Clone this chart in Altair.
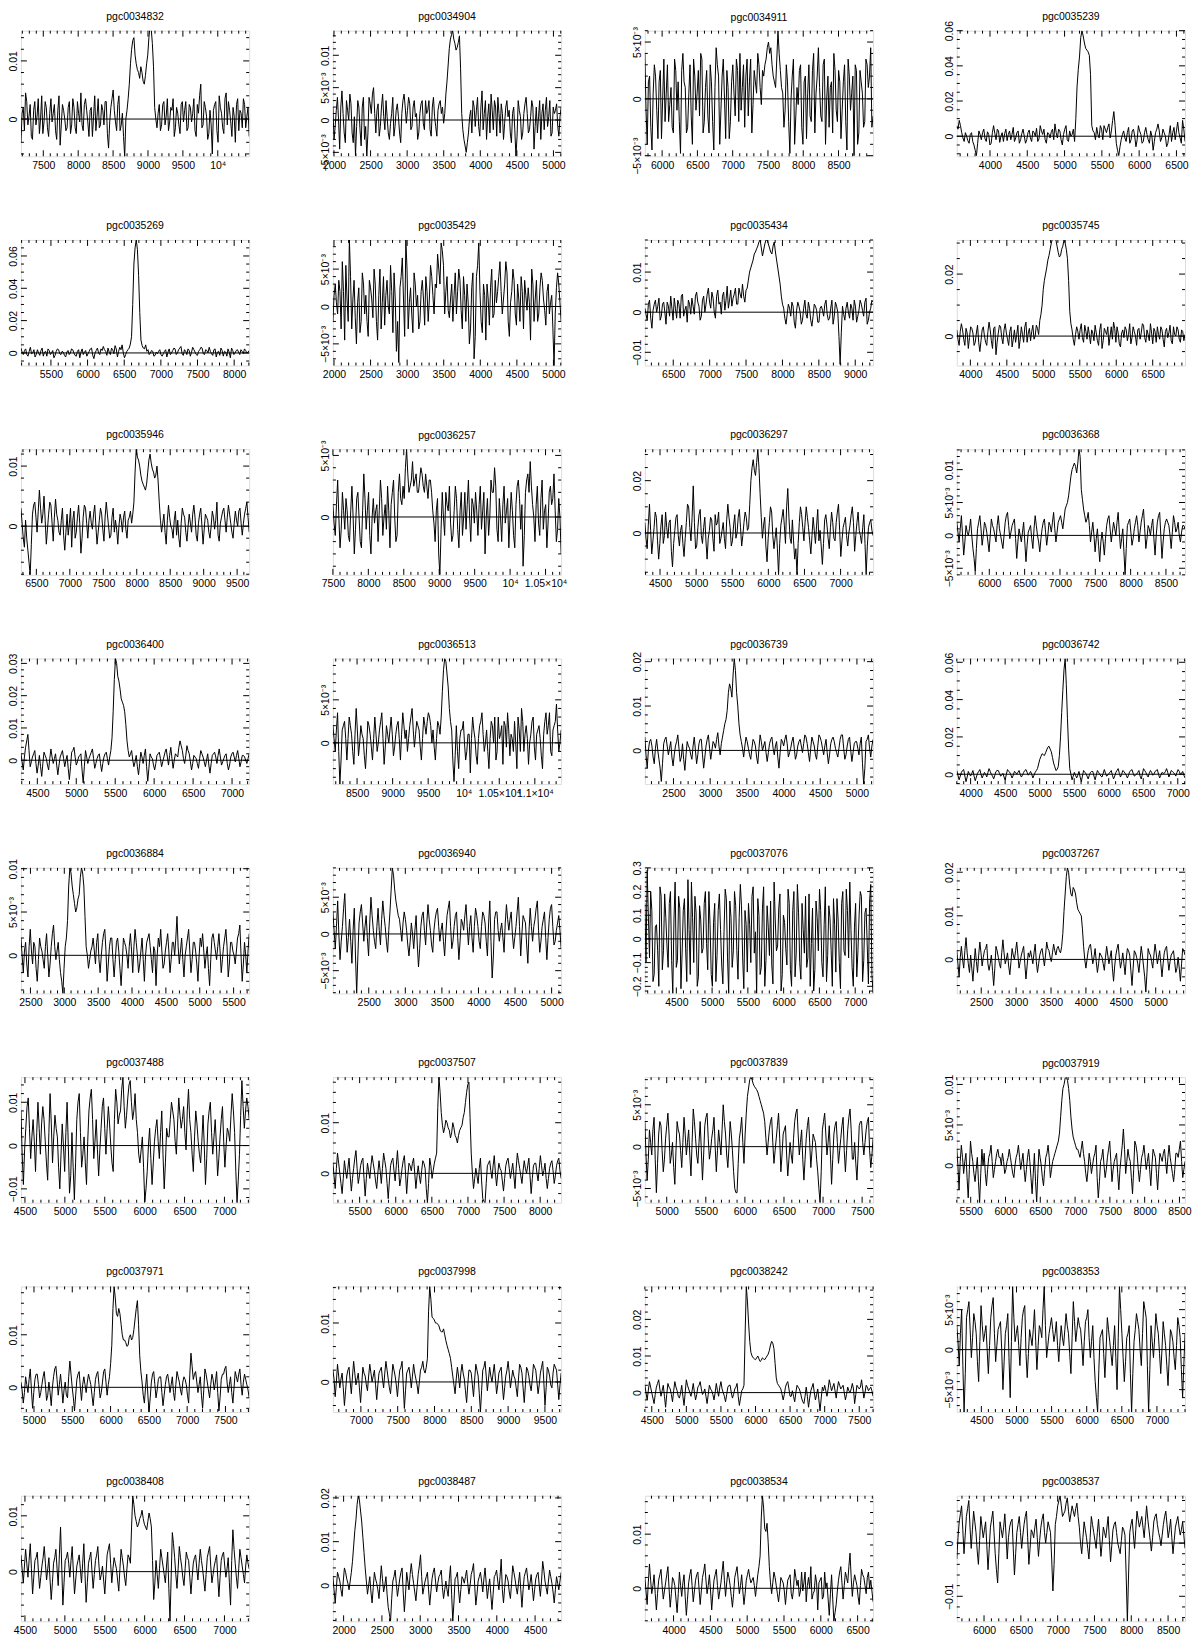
import math
import altair as alt
import numpy as np
import pandas as pd

FONT = "Liberation Sans"
W, H = 229, 126
UNIT = 1e-4
FS = 10.5

NAMES = ["pgc0034832", "pgc0034904", "pgc0034911", "pgc0035239",
         "pgc0035269", "pgc0035429", "pgc0035434", "pgc0035745",
         "pgc0035946", "pgc0036257", "pgc0036297", "pgc0036368",
         "pgc0036400", "pgc0036513", "pgc0036739", "pgc0036742",
         "pgc0036884", "pgc0036940", "pgc0037076", "pgc0037267",
         "pgc0037488", "pgc0037507", "pgc0037839", "pgc0037919",
         "pgc0037971", "pgc0037998", "pgc0038242", "pgc0038353",
         "pgc0038408", "pgc0038487", "pgc0038534", "pgc0038537"]

XRANGE = [(7180, 10450), (1985, 5105), (5755, 8990), (3555, 6615),
          (5091, 8205), (1985, 5105), (6110, 9245), (3814, 6943),
          (6270, 9680), (7500, 10720), (4290, 7450), (5540, 8770),
          (4290, 7220), (8160, 11370), (2110, 5220), (3800, 7105),
          (2360, 5730), (2010, 5130), (4060, 7250), (2150, 5420),
          (4450, 7310), (5130, 8290), (4720, 7640), (5300, 8580),
          (4830, 7810), (6620, 9720), (4400, 7700), (4150, 7400),
          (4450, 7310), (1860, 4840), (3610, 6710), (5630, 8730)]

YRANGE = [(-0.0064, 0.0152), (-0.0056, 0.0138), (-0.00505, 0.0060), (-0.0114, 0.0600),
          (-0.0078, 0.0699), (-0.0079, 0.0089), (-0.0133, 0.018), (-0.0095, 0.031),
          (-0.0081, 0.0128), (-0.0047, 0.0055), (-0.016, 0.032), (-0.0060, 0.0131),
          (-0.0074, 0.0315), (-0.0048, 0.0098), (-0.0076, 0.0207), (-0.0053, 0.062),
          (-0.0044, 0.0101), (-0.0081, 0.0090), (-0.23, 0.30), (-0.0078, 0.021),
          (-0.0132, 0.0158), (-0.0058, 0.019), (-0.0067, 0.0083), (-0.0046, 0.0109),
          (-0.0047, 0.0192), (-0.0051, 0.0162), (-0.0053, 0.029), (-0.0078, 0.0079),
          (-0.0089, 0.0136), (-0.0082, 0.0205), (-0.0061, 0.0171), (-0.0147, 0.0089)]

YSTEP = [0.01, 0.005, 0.005, 0.02,
         0.02, 0.005, 0.01, 0.02,
         0.01, 0.005, 0.02, 0.005,
         0.01, 0.005, 0.01, 0.02,
         0.005, 0.005, 0.1, 0.01,
         0.01, 0.01, 0.005, 0.005,
         0.01, 0.01, 0.01, 0.005,
         0.01, 0.01, 0.01, 0.01]

# flux densities in units of 1e-4; S = even channels, D = odd channels
S01 = [-40, 20, 45, -10, 25, -35, 30, 5, -25, 40, -5, 20, -30, 35, 10, -20, 15, -45, 25, 0,
       -15, 30, -10, 20, -25, 10, 45, -20, 35, -5, 15, -30, 40, 5, -15, 25, -10, 30, -50, 20,
       50, -5, 25, -20, 10, -65, 15, 60, 120, 140, 95, 80, 90, 65, 75, 110, 160, 130, 20, -15,
       25, -10, 30, 5, -20, 20, 35, -15, 10, -25, 30, 15, -20, 25, -5, 35, -30, 10, 60, -10,
       20, -35, 15, -60, 25, -20, 40, 10, -25, 45, 30, -5, 20, -40, 35, 15, -15, 25, 5, -30]
D01 = [10, -20, 30, 5, -30, 15, -10, 35, 0, -25, 30, -15, 10, -5, 25, -35, 40, -10, 15, -20,
       20, -25, 35, -15, 30, -5, -10, 25, 15, -30, 20, 5, -20, 35, -10, 15, 30, -25, -5, 35,
       15, -20, 40, -10, -30, 0, 35, 95, 135, 110, 85, 70, 80, 60, 95, 140, 155, 90, 0, 10,
       -20, 25, -10, 35, -5, 15, -30, 20, -10, 25, -5, 30, -15, 20, 10, -20, 25, 40, -15, 30,
       5, -25, -10, 15, 30, -40, 20, -15, 35, -10, 15, -30, 5, 25, -20, 10, 35, -15, 20]
S02 = [20, -10, 35, -45, 45, -20, 30, 0, 25, -35, -55, 30, -15, 20, -30, -56, 35, 10, 50, -20,
       25, -10, 40, -15, 5, -30, 10, -25, 15, 5, -35, 30, 20, 15, 25, -10, 30, 10, -20, 25,
       -5, 30, 15, -15, 20, 5, -25, 25, 10, -5, 40, 85, 125, 138, 118, 112, 130, 10, -30, -50,
       -20, 15, 30, -10, 35, -25, 45, 10, -30, 25, 40, -15, 20, 35, -20, 10, -5, 30, 15, -35,
       20, -56, 30, 5, -20, 25, 10, -15, 30, -45, 20, 5, -30, 25, 15, -10, 30, -20, 10, 25, -25, 20]
D02 = [-30, 15, 0, 20, 10, -35, 15, 40, -20, 5, -10, 20, -40, 35, -10, -20, 25, 40, 10, 15,
       -25, 20, 5, 30, -20, -5, 35, -10, 25, -20, 10, 40, -5, 35, -15, 20, 5, -30, 10, 30,
       -15, 10, 30, -25, 35, -10, 15, 30, 20, 10, 60, 110, 132, 125, 108, 120, 80, -15, -40, -35,
       5, -20, 20, 15, -10, 20, -15, 30, 5, -20, 15, 30, -25, 10, 25, -30, 20, 5, -20, 10,
       -15, -25, 15, -30, 10, 35, -20, 5, 20, -10, -20, 30, 10, -15, 35, 5, -25, 20, 15, -10, 5]
S03 = [40, -40, 20, -45, 30, -10, 15, -35, 35, 5, -20, 10, -30, 25, 15, -48, 40, 10, -25, 30,
       -40, 20, 5, -15, 35, -20, 25, -30, 15, -45, 45, 20, -10, 35, -35, 10, -20, 30, -15, 25,
       40, 10, -25, 35, 15, -30, 25, 5, 30, -5, 20, 35, 50, 45, 20, 10, 60, 25, 5, -10,
       15, -48, 20, -40, 10, 25, -25, 15, -35, 30, -20, 40, 5, 45, -15, 30, -40, 20, 10, -30,
       25, -20, 15, -10, 30, -45, 20, 5, -50, 25, -30, 15, -25, 35, 10, 45, -15]
D03 = [-10, 15, -25, 5, 20, -35, 25, 0, -20, 30, -5, -25, 35, -10, -20, 25, 15, -30, 5, -15,
       35, -10, 25, 40, -30, 10, -15, 30, -20, 10, 30, -40, 20, 0, 25, -35, 15, 5, 35, -20,
       -10, 30, 20, -15, 35, -5, 15, 40, 10, 25, 30, 45, 40, 30, 15, 35, 40, 10, -25, 30,
       -20, 0, 35, -15, -5, 30, -40, 20, 5, -15, 25, -30, 20, 10, -20, 35, 0, -25, 15, 40,
       -10, 25, -35, 15, -20, 35, -10, 20, 30, -40, 25, 5, -20, 30, 20, -25]
S04 = [60, 90, 20, -30, 0, -40, 20, -50, -110, 30, -20, 40, -30, 10, -40, 60, -20, 30, 0, -30,
       40, 10, -20, 50, -10, 30, -20, 40, -40, 20, -10, 30, 0, -30, 60, 10, -20, 20, -10, 40,
       70, -10, 30, -50, 40, -20, 30, 10, -30, 280, 450, 600, 530, 490, 460, 60, 20, 50, -10, 40,
       60, 20, 70, 30, 140, -40, -110, -20, 30, -30, 50, -20, 40, -60, 60, 10, -30, 50, -20, 30,
       -80, 20, 70, -30, 40, 0, -40, 60, 20, -20, 80, -10, 90, -30]
D04 = [40, 60, -10, 20, -25, 10, -30, -80, -40, 10, 20, -15, 25, -50, 20, 15, 40, -35, 20, 15,
       -25, 30, 10, -30, 20, -40, 15, 0, -20, 35, -30, 20, 45, -15, 30, 40, -40, 15, 25, -20,
       20, 40, -20, 10, 60, -30, 0, 40, 100, 380, 560, 570, 500, 480, 350, 30, -20, 10, 60, -20,
       40, 50, -10, 90, 60, -80, -60, 10, -10, 20, -40, 30, 0, -20, 30, -40, 20, 10, -40, 0,
       -30, 40, 30, -10, 20, -60, 10, -30, 50, 30, 20, -40, 40]
S05 = [30, -10, 25, -20, 35, 0, -25, 20, -15, 30, 5, -20, 15, 0, -30, 10, 20, -10, 5, -25,
       15, 0, 20, -15, 10, -30, 25, 5, -20, 10, 30, -35, 15, 0, 25, 40, 10, 30, -10, 20,
       45, -25, 35, 50, -30, 10, 30, 100, 550, 700, 480, 80, 30, 50, 20, 0, 10, -15, -5, 20,
       -20, 10, -25, 25, 0, 30, -10, 20, 40, -15, 10, 25, -20, 35, 5, -15, 20, 30, -10, 15,
       35, -5, 20, -25, 10, 30, -20, 5, 25, -30, 15, 0, 20, -10, 10, 25, 0, 15]
D05 = [5, 15, -10, 10, -5, 20, -10, 0, 15, -20, 10, 25, -10, 15, -15, 25, -5, 10, -15, 5,
       -10, 25, 0, -20, 20, 5, -10, 15, -5, 25, -15, 0, 30, -10, 15, 20, -15, 5, 30, -5,
       25, 10, 20, 0, -10, 20, 55, 300, 650, 640, 250, 45, 25, 10, -10, 15, -20, 5, 10, -10,
       -5, 20, 5, -10, 15, 25, 0, 30, -5, 20, -10, 15, 5, 20, -10, 10, 35, -5, 20, 0,
       10, -15, 25, 5, -15, 15, 10, -20, 5, 30, -10, 15, 5, 20, -5, 15, 5]
S06 = [-20, 30, -10, 20, 60, -45, 10, 90, -30, 35, -50, 25, -20, 30, 15, -40, 25, -15, 30, -45,
       50, 5, -25, 35, -10, 20, 45, -60, -75, 40, 10, 90, -30, 25, -35, 30, 15, -20, 35, -25,
       20, 10, 40, -10, 25, 50, 85, 55, 20, -5, 10, -20, 45, 20, 35, -30, 15, 30, -50, 25,
       -70, 40, 85, -20, 30, -45, 10, 25, -15, 35, 20, 60, -10, 30, 45, -40, 20, 35, -25, 10,
       40, -30, 15, 25, -45, 30, 10, -20, 25, 35, -5, 20, -10, 15, -80, 25, 30, -20]
D06 = [15, 5, 35, -30, 20, 55, -20, 40, 10, -15, 5, -35, 45, -10, -20, 35, 10, 50, -20, 15,
       -30, 40, 15, 0, 55, -35, 10, -20, 25, 65, -40, 50, 5, -10, 45, 0, -30, 20, 10, 40,
       -20, 55, 15, 30, 70, 30, 75, -10, 40, -15, 30, 15, -10, 50, -5, 40, -20, 5, -30, 45,
       -40, 55, 20, -35, 15, 30, -25, 50, -10, 5, 40, 20, 10, 60, -20, 5, 50, -10, 30, -20,
       20, 35, -5, 5, 50, -20, 35, -10, 45, 10, -25, 30, 5, -30, -10, 45, 5]
S07 = [10, -20, 30, -40, 20, 0, 35, -10, 25, -30, 15, 40, -20, 10, 30, -15, 45, 5, -25, 20,
       35, -5, 50, 15, -10, 40, 20, 60, 10, 35, -15, 55, 25, 40, 5, 65, 30, 15, 45, 20,
       60, 35, 40, 55, 80, 110, 130, 150, 165, 180, 140, 170, 180, 160, 145, 175, 130, 90, 40, 10,
       -30, 20, -10, 15, -40, 25, 0, -20, 30, -15, 10, -35, 20, 5, -25, 15, -10, 30, -20, 10,
       -30, 25, 0, -130, 15, -20, 25, -15, 10, 30, -25, 5, 20, -10, 35, -20, 10, 25]
D07 = [-5, 20, -15, 5, 30, 15, -20, 20, 0, 25, -10, 10, 35, -15, 20, 40, -10, 15, 30, -5,
       15, 40, 25, -20, 30, 0, 45, 25, 50, 0, 40, 20, -5, 50, 30, 10, 55, 35, 60, 20,
       45, 70, 25, 60, 100, 120, 145, 158, 175, 160, 155, 180, 170, 150, 165, 150, 110, 70, 20, -15,
       -5, 10, 25, -25, 5, 15, -30, 10, -5, 25, -20, -10, 15, -25, 10, 5, 20, -5, -15, 30,
       -10, 15, -60, -50, -5, 10, 0, 20, -20, 15, -10, 30, 5, 25, -30, 0, 30]
S08 = [20, -30, 40, -10, 25, -40, 30, 10, -20, 35, -50, 20, 0, -30, 45, -15, 25, -60, 10, 30,
       -25, 40, -10, 15, -35, 20, 5, -40, 30, -20, 45, 10, -15, 35, 0, 25, 50, 100, 180, 220,
       260, 300, 320, 310, 270, 260, 290, 300, 250, 80, 20, -30, 30, -10, 40, -20, 15, 30, -25, 10,
       35, -15, 20, -40, 25, 5, -30, 30, 45, -20, 10, -35, 20, 30, -15, 40, -5, 15, -30, 25,
       10, 35, -20, 5, 40, -25, 15, 30, -10, 20, -35, 25, 10, -15, 30, 0, 20, -20, 15, 5]
D08 = [-10, 15, 20, -30, 10, -5, 25, -30, 10, -20, -15, 30, -20, 15, 20, -40, 30, -20, 35, -5,
       20, 10, -30, 30, -10, -20, 35, -10, 5, 30, -20, 25, 15, -10, 35, 5, 70, 150, 200, 245,
       280, 315, 325, 290, 255, 280, 310, 280, 180, 40, -10, 5, 15, 20, -5, 35, -10, 5, 20, -15,
       10, -30, 40, -15, 15, 30, 0, -10, 25, 30, -25, 10, -5, 20, 5, -25, 30, 0, 20, -10,
       40, -5, 20, -15, 10, 25, -20, 5, 30, -10, 15, -5, 35, -25, 5, 30, -10, 20, -15]
S09 = [30, -20, 10, -40, -81, 20, 40, -10, 60, 5, 50, -30, 20, 35, -25, 45, 10, -15, 30, -40,
       20, 5, -35, 25, -10, 35, -45, 15, 30, -20, 25, -5, 35, -30, 10, 20, -25, 40, 0, -15,
       30, 10, -30, 20, -10, 25, -20, 15, 5, 40, 128, 110, 85, 70, 60, 90, 120, 95, 80, 100,
       40, -10, 20, -30, 35, 0, -20, 25, 10, -35, 30, 15, -25, 20, -10, 35, -15, 5, 30, -30,
       20, 10, -20, 25, -5, 40, -25, 15, 30, -10, 35, 5, -20, 25, 0, 30, -15, 20, 40, -10]
D09 = [5, -35, -20, -60, -30, 35, 15, 25, 30, 20, 10, -5, 40, 5, 15, 20, -10, 10, -15, -10,
       -15, 30, 10, -20, 15, 5, -20, 35, 5, 10, 5, 20, 0, -10, 30, -5, 15, 20, -20, 15,
       -10, -5, 0, 10, 15, -5, 10, 25, 20, 90, 115, 100, 75, 65, 70, 110, 105, 90, 85, 75,
       10, 5, -10, 10, 15, -5, 10, -15, -20, 5, 20, -10, 0, 5, 20, 15, -25, 20, 0, -5,
       15, -10, 0, 15, 10, -15, 5, 25, 10, 15, 20, -10, 5, 10, 25, 5, 5, 30, 15]
S10 = [10, -15, 30, -25, 20, -10, 5, -20, 25, -30, 15, 0, -25, 35, -10, 20, -30, 15, 5, -20,
       30, -15, 10, 25, -25, 20, 0, -15, 35, 10, 15, 55, 20, 30, 25, 35, 20, 40, 25, 35,
       15, 30, 5, -20, 15, -47, 20, -15, 10, 25, -20, 5, 15, -25, 20, 0, -10, 30, -20, 10,
       20, -15, 25, 5, -30, 15, 0, 20, 40, -10, 15, -20, 25, 5, -25, 20, -15, 10, 30, -10,
       -40, 20, 35, 45, 10, -20, 25, -15, 30, 5, -25, 20, 10, 35, -20, 15, -30]
D10 = [-5, 10, 0, -10, 5, 15, -15, 5, 0, -10, 20, -20, 5, 15, 5, -15, 0, -5, 10, 5,
       15, 0, -10, 5, 10, 30, -20, 20, 15, 25, 40, 35, 25, 45, 30, 20, 30, 35, 20, 25,
       30, 20, -5, 5, -30, -10, 0, 20, 5, -5, -15, 25, -10, 5, -15, 20, 10, 0, 15, -5,
       5, 10, -10, 20, 0, -15, 30, 20, 25, -20, 0, 10, -5, 15, 0, 5, -25, 25, 15, 10,
       -15, 30, 20, 25, 0, 10, -5, 15, -10, 10, -5, 25, 15, 5, -10, 0]
S11 = [40, -60, 110, -80, 20, 60, -100, 30, -40, 80, -20, 50, -130, 10, 70, -50, 30, -90, 40, 100,
       -30, 180, -60, 20, 90, -40, 60, -100, 10, 50, -70, 30, 80, -20, 40, -60, 110, 20, -30, 70,
       0, 90, -50, 40, 60, 20, 200, 280, 220, 320, 150, -20, 60, -110, 40, 80, -60, 20, -160, 30,
       90, -40, 170, -20, 50, -100, -160, 40, 70, -30, 100, 20, -80, 60, -40, 90, 10, -120, 50, 30,
       -60, 80, -20, 40, 110, -90, 20, 60, -50, 30, 100, -70, 40, 10, -40, 70, -160, 20, 50, -10]
D11 = [-20, 30, 10, -30, 80, -30, -40, 70, -10, 20, 40, -70, -40, 60, -10, 10, -40, -20, 110, 20,
       60, 40, -50, 70, -10, 20, -30, -20, 60, -20, 70, 40, -40, 10, -20, 50, 60, -50, 30, -20,
       60, 20, -10, 80, 10, 110, 250, 240, 270, 250, 60, 30, -50, -20, 100, -10, -20, -60, -40, 60,
       30, 100, 60, -40, -30, -60, -40, 100, 20, 40, 60, -30, -10, 10, 30, -30, -50, -40, 70, -20,
       20, 40, -30, 80, 10, -30, 40, -10, 0, 70, 40, -10, 80, -10, 20, -40, -50, 40, 10]
S12 = [20, -10, 30, -30, 15, 0, 25, -20, -55, 10, 30, -15, 20, 5, -25, 25, 10, -10, 30, 0,
       -20, 20, 35, -5, 15, 25, -35, 10, -10, 20, -40, 5, 15, -20, 30, 0, -25, 10, 25, -15,
       20, 5, 35, -10, 20, 30, 10, 40, 50, 75, 100, 110, 95, 131, 70, 40, 20, 35, -10, 20,
       -25, 10, -40, 5, -30, 15, 30, -10, 20, 0, 35, -20, 10, -60, 15, 25, -15, 10, 30, -10,
       20, 40, -20, 15, 0, 25, -30, 20, 35, -35, 10, 25, 15, -20, 30, 5, 20, -10, 15, 10]
D12 = [5, 10, 0, -10, 5, 10, 0, -35, -20, 20, 10, 0, 15, -10, 0, 15, 0, 15, 10, -10,
       0, 30, 15, 5, 20, -5, -10, 0, 5, -10, -15, 10, -5, 10, 15, -10, -5, 20, 5, 0,
       15, 20, 10, 5, 25, 20, 25, 45, 60, 90, 105, 105, 110, 120, 55, 30, 25, 15, 5, 0,
       -5, -15, -10, -10, -5, 25, 10, 5, 10, 20, 5, -5, -25, -20, 20, 5, -5, 20, 15, 5,
       30, 10, -5, 10, 15, -5, 0, 30, 0, -10, 20, 20, 0, 5, 20, 10, 0, 5, 15]
S13 = [20, -30, 40, 80, -20, 10, 30, -40, 15, -50, 25, 5, -30, 35, -10, 20, -45, 10, 30, -20,
       15, -60, 25, 40, -15, 10, 20, -70, 30, -10, 15, 35, -25, 5, 20, -35, 10, 25, -15, 30,
       150, 315, 260, 220, 180, 150, 60, 10, 30, -20, 15, -45, 25, -10, 35, -65, 20, 5, -30, 15,
       25, -20, 10, 35, -15, 40, -25, 20, 10, 60, 30, -10, 45, 20, -30, 15, 5, -25, 30, 10,
       -20, 20, -40, 15, 25, -10, 35, -15, 5, 20, -30, 10, 25, -5, 30, -20, 15, 10, -10, 20]
D13 = [-5, 10, 60, 30, -5, 20, -10, -15, -20, -10, 15, -15, 5, 10, 5, -15, -15, 20, 5, 0,
       -25, -20, 30, 10, -5, 15, -30, -20, 10, 5, 25, 5, -10, 15, -10, -10, 20, 5, 10, 70,
       250, 300, 245, 190, 170, 110, 30, 20, 0, -5, -20, -10, 10, 15, -20, -25, 10, -15, -10, 20,
       5, -5, 25, 10, 15, 5, 0, 15, 40, 45, 5, 15, 30, -5, -10, 10, -10, 5, 20, -5,
       0, -15, -10, 20, 10, 15, 10, -5, 15, -10, -15, 20, 10, 15, 5, -5, 15, 0, 5]
S14 = [20, -10, 35, -48, 15, 25, -20, 30, 10, -25, 40, -15, 20, 5, -30, 25, 10, -20, 30, -10,
       15, 35, -25, 20, 0, 30, -15, 10, 25, -20, 35, 5, -10, 20, 40, -5, 25, 15, -20, 30,
       10, 35, 20, 15, -20, 25, 10, 60, 98, 80, 40, 15, -45, 20, -30, 15, 25, -20, 10, -35,
       30, 5, -25, 20, 35, -10, 15, -30, 25, 0, -20, 30, 10, -25, 20, 35, -15, 5, 25, -30,
       15, 40, -10, 20, -25, 10, 30, -20, 15, 5, -30, 25, 10, 35, -15, 20, 45, -10, 15]
D14 = [5, 15, -10, -20, 20, 5, 5, 20, -10, 10, 15, 0, 10, -15, -5, 20, -5, 5, 10, 0,
       25, 5, -5, 10, 15, 10, -5, 20, 5, 10, 20, 15, 5, 30, 15, 10, 20, -5, 5, 20,
       25, 30, 0, -5, 5, 20, 30, 85, 95, 65, 25, -20, -15, -10, 5, 15, 0, -10, 10, 5,
       15, -15, 5, 25, 10, 0, -10, 5, 20, 30, -10, 5, 20, 25, -5, 15, 10, -10, 0, 30,
       -10, 25, 10, 5, 0, 25, -5, 10, 20, -15, 10, 35, 20, -10, 15, 25, 15, 0]
S15 = [30, -40, 20, 10, -30, 25, -20, -70, 15, 30, -10, 20, -35, 10, 35, -25, 15, -45, 20, 5,
       -20, 30, -30, 15, 25, -40, 10, 35, -20, 20, 5, 40, -10, 30, 60, 90, 150, 120, 207, 130,
       60, 20, -15, 30, 5, -20, 25, 10, -30, 35, 0, 20, -25, 15, 30, -10, 20, -40, 25, 10,
       35, -15, 5, 30, -20, 10, 25, -5, 35, 15, -25, 30, 10, -20, 35, 20, -10, 25, -30, 15,
       30, 5, -15, 25, 35, -20, 10, 30, -25, 15, 20, -10, 30, -76, 20, 35, -15, 25]
D15 = [-10, 0, 25, -15, 5, 0, -40, -30, 25, 10, 5, -15, -10, 20, 5, -15, -20, -10, 10, -10,
       10, 0, -10, 25, -10, -15, 25, 5, 0, 15, 25, 10, 15, 45, 70, 130, 140, 170, 180, 100,
       35, 5, 10, 20, -10, 5, 20, -15, 5, 20, 10, -5, -5, 25, 5, 10, -15, -5, 20, 25,
       15, -5, 20, 5, -10, 20, 10, 15, 30, -5, 5, 20, -10, 10, 30, 5, 10, -5, -10, 25,
       20, -5, 5, 35, 5, -10, 25, 0, -5, 20, 5, 15, -30, -40, 25, 5, 10]
S16 = [20, -30, 10, 25, -40, 15, -10, 20, -35, 5, 25, -20, 10, -15, 30, 0, -25, 15, 20, -10,
       5, -30, 25, 10, -20, 15, 0, 20, -15, 10, 25, -5, 15, -20, 10, 30, 80, 110, 100, 130,
       150, 120, 60, 20, 40, 200, 450, 620, 300, 30, -30, 10, -20, 15, -40, 20, 5, -25, 10, 15,
       -30, 20, 0, -15, 25, -10, 5, 20, -25, 10, 30, -15, 20, 5, -20, 15, 25, -10, 0, 20,
       -25, 30, 10, -15, 20, -5, 15, 25, -20, 10, 5, 30, -15, 20, 10, -10, 25, 0, 15, -20]
D16 = [-5, -10, 20, -10, -15, 0, 5, -10, -15, 15, 0, -5, 0, 10, 15, -10, -5, 20, 5, -5,
       -15, 0, 15, -5, -5, 10, 10, 0, -5, 20, 10, 5, 0, -5, 20, 55, 95, 105, 115, 145,
       135, 90, 40, 25, 100, 330, 560, 480, 140, 0, -10, -5, -5, -15, -10, 10, -10, -5, 15, -10,
       -5, 10, -10, 5, 5, -5, 10, -5, -10, 20, 5, 0, 15, -5, -5, 20, 5, -5, 10, -10,
       0, 20, -5, 5, 10, 0, 20, 0, -5, 5, 15, 10, 0, 15, 0, 10, 15, 5, -5]
S17 = [20, -20, 15, -25, 30, -10, 10, -30, 20, 5, -15, 25, -25, 10, 35, -5, 15, -20, -44, 10,
       40, 101, 80, 60, 55, 70, 101, 80, 10, -15, 5, 20, -10, 25, -20, 15, 30, -30, 10, 20,
       -25, 15, 5, -35, 20, 10, -15, 25, -20, 30, 0, -10, 20, -30, 15, 25, -5, 10, -35, 20,
       30, -15, 5, 25, -20, 15, 0, 45, -10, 20, -25, 10, 30, -20, 15, 5, -30, 20, 25, -15,
       10, -35, 20, 15, -5, 25, -20, 10, 30, -25, 15, 5, -10, 20, 35, -30, 15, -20, 25]
D17 = [0, 5, -10, 10, 5, 15, -15, -5, 10, -5, 10, 0, -10, 25, 10, 5, -5, -30, -15, 20,
       80, 95, 70, 50, 65, 90, 95, 45, 0, -5, 10, 5, 15, -5, 0, 25, 5, -10, 20, -5,
       -5, 20, -15, -10, 15, 0, 10, 5, 10, 15, -20, 5, -5, 0, 20, 10, -20, 5, 0, 10,
       5, -10, 15, 5, -5, 15, 20, 10, 5, -5, 0, 20, 5, -5, 15, -10, 0, 10, 5, 0,
       -15, -5, 25, 5, 10, 5, -5, 20, 10, -10, 15, 0, 5, 25, 0, -10, 0, 5]
S18 = [30, -20, 45, -35, 10, 55, -25, 20, -40, 35, -81, 15, 40, -10, 25, -30, 50, 5, -20, 35,
       -15, 45, 10, -25, 30, 90, 60, 35, 20, -10, 30, 5, -30, 15, -20, 25, -45, 10, 30, -15,
       40, 5, -25, 20, 35, -10, 15, -30, 25, 45, -20, 10, 30, -35, 20, 5, 40, -15, 25, -25,
       35, 10, -20, 30, 15, -30, 45, -60, 20, 30, -10, 15, -25, 40, 5, 30, -20, 10, 50, -30,
       25, 15, -40, 35, -10, 20, 45, -25, 10, 30, -35, 20, 40, -15, 5, 25, -20]
D18 = [5, 10, 0, -10, 35, 10, -5, -10, 5, -30, -30, 30, 15, 10, -5, 15, 25, -10, 10, 5,
       20, 25, -10, 5, 60, 80, 45, 25, 5, 15, 20, -15, -10, 0, 5, -15, -20, 25, 5, 15,
       20, -15, 5, 30, 10, 5, -10, 0, 35, 10, -10, 25, -5, -10, 15, 25, 10, 10, -5, 10,
       25, -10, 10, 25, -10, 15, -10, -30, 30, 5, 5, -5, 15, 20, 20, 0, -5, 30, 10, 0,
       20, -15, 5, 10, 10, 35, 5, -10, 20, -5, -5, 35, 10, -10, 15, 5]
S19 = [1500, 2900, -800, 1200, -1500, 600, -2000, 1800, -500, 900, -1200, 2000, -2300, 2400, -900,
       1300, -600, 1700, -1800, 400, 2400, -1000, 1100, -1600, 800, -400, 2000, -1300, 600, -2000,
       1500, -700, 1900, -1100, 300, 1700, -2300, 900, -500, 1400, -1700, 2300, -800, 1200, -1400,
       600, 1800, -600, -2300, 1000, -1200, 2200, -900, 500, 1600, -1900, 800, -300, 1900, -1500,
       700, -1100, 1500, -2000, 2000, -600, 1100, -1700, 400, 1800, -800, -2000, 1300, -1300, 900,
       2100, -1000, 600, -1800, 1400, -500, 1700, -1400, 800, -2100, 2000, -700, 1200, 2400, -1200,
       500, -1600, 1000, 1800, -900, 1300, -1900, 2300, -2300]
D19 = [-1000, 1000, 2000, -1800, 500, -500, 2200, -1300, 1900, -300, 1500, -900, 800, -1200, 1800,
       -2100, 1200, -400, 2500, -1500, 900, 1800, -2000, 1400, -600, 1500, -200, 2000, -1500, 700,
       -1800, 1200, 400, -1900, 2100, -800, 1600, -1200, 2000, -500, 900, 1400, -2100, 600, 1500,
       -1000, 2200, 300, 1700, -1500, 1300, -2000, 1400, -700, -1100, 2400, -500, 1300, -2200, 1000,
       -400, 2100, -1300, 1200, -1600, 2300, -1000, 1500, -600, -1200, 1900, -200, -2200, 1600, -500,
       1200, -1600, 2200, -700, 900, -2000, 600, 1700, -1000, 1500, -500, 2100, -800, 400, -2000,
       1500, -500, 2000, -1800, 1100, -300, 1600, -1500]
S20 = [20, -40, 30, -20, 50, -10, 10, -50, 25, -30, 40, -15, 20, 35, -25, 10, -60, 30, 5, -20,
       45, -10, 15, -35, 25, 0, 40, -20, 10, 30, -45, 15, 20, -10, 35, -30, 10, 25, -15, 40,
       20, -5, 35, 10, 30, 15, 60, 150, 210, 170, 145, 160, 130, 110, 100, 30, -20, 20, 35, -10,
       25, -30, 15, 5, -25, 30, -10, 20, -50, 10, 35, -20, 15, -35, 25, 10, -60, 20, 5, -30,
       30, -15, -75, 25, 10, -20, 35, -10, 20, -40, 15, 30, -25, 10, 20, -30, 5, -50, 25, 10]
D20 = [-10, 5, 0, 20, 15, -30, -20, -10, -5, 10, 15, 5, 25, -10, -10, -25, -20, 20, -10, 15,
       15, 0, -15, -5, 10, 20, 10, -5, 20, -10, -15, 5, 5, 15, -5, -10, 20, 5, 10, 25,
       5, 15, 20, 25, 20, 30, 110, 190, 200, 150, 165, 150, 115, 105, 70, 0, 0, 30, 10, 5,
       -5, -10, 10, -10, 5, 10, 5, -20, -15, 25, 5, -5, -10, 0, 20, -25, -20, 15, -10, 0,
       10, -40, -30, 15, -5, 10, 15, 5, -10, -10, 25, 0, -5, 15, -5, -20, -20, -10, 20]
S21 = [80, -90, 40, 110, -30, 60, -60, 100, -20, 90, 10, -80, 120, -40, 70, 20, -100, 50, -60, 100,
       -110, 30, -125, 60, 120, -50, 20, -90, 80, 130, -30, 60, -70, 40, 110, -20, 90, 0, -60, 130,
       50, 80, 158, 40, 110, 150, 60, 120, 30, -40, 20, -130, -60, 40, -90, 10, 60, -30, 80, -100,
       40, 20, 100, 60, -20, 110, 40, 90, -10, 130, 30, -60, 80, 10, -40, 70, -90, 50, 100, -20,
       60, -70, 20, 90, -50, 40, 10, 120, 30, -132, -20, 150, 40, 110, 60]
D21 = [-20, -10, 90, 40, 20, 10, 30, 40, 50, 60, -40, 30, 50, 20, 40, -50, -20, 0, 30, 0,
       -70, -50, -40, 100, 30, -20, -40, 10, 110, 60, 10, -10, -10, 90, 40, 40, 50, -40, 60, 100,
       70, 130, 90, 70, 140, 100, 80, 60, -20, -10, -50, -100, 0, -30, -40, 40, 10, 30, -20, -40,
       20, 60, 80, 10, 50, 70, 60, 30, 80, 60, -20, 20, 50, -20, 10, 0, -30, 80, 30, 20,
       0, -30, 60, 10, 0, 30, 70, 80, -60, -80, 70, 90, 80, 90]
S22 = [20, -30, 40, 0, -40, 25, -10, 30, -35, 10, 45, -20, 15, 30, -45, 20, -10, 35, 5, -30,
       25, -20, 40, 10, -50, 15, 30, -15, 45, -25, 10, 35, -40, 20, 5, 30, -30, 15, -20, 25,
       10, -58, 30, -10, 20, 40, 190, 120, 80, 105, 90, 70, 100, 75, 60, 85, 95, 120, 160, 180,
       40, -30, 10, -20, 30, -50, -58, 15, 25, -10, 35, -25, 20, 5, -35, 15, 30, -10, 20, -30,
       40, 10, -20, 25, 0, 30, -40, 15, 20, -15, 35, -5, 20, -30, 10, 25, -20, 15, 30, -10]
D22 = [-5, 10, 20, -20, -10, 5, 10, -5, -10, 30, 10, -5, 25, -10, -10, 5, 15, 20, -15, 0,
       5, 10, 25, -20, -15, 25, 5, 15, 10, -10, 25, 0, -5, 15, 20, 0, -5, -5, 5, 20,
       -30, -20, 15, 5, 30, 130, 160, 95, 90, 100, 85, 80, 90, 70, 75, 90, 110, 140, 175, 110,
       0, -10, -5, 10, -15, -55, -20, 20, 5, 15, 0, 0, 10, -15, -10, 25, 10, 5, -5, 10,
       25, -5, 5, 10, 15, -5, -10, 20, 0, 10, 15, 5, -10, -10, 20, 5, -5, 25, 5]
S23 = [30, -40, 20, -10, 35, -55, 15, 25, -30, 10, 40, -20, 5, -45, 30, 15, -25, 35, -10, 20,
       -35, 45, 10, -20, 30, -40, 25, 40, -15, 10, 35, -30, 20, -10, 50, 15, -25, 30, -5, -50,
       -55, 10, 35, -20, 40, 70, 83, 75, 70, 65, 55, 45, 30, -10, 20, 35, -20, 10, 40, -30,
       15, 25, -35, 5, -20, 30, 45, -10, 20, -40, 10, 35, -25, 15, 5, -30, -67, 20, 40, -10,
       25, -45, 15, 30, -20, 10, 35, -30, 20, 45, -15, 5, -40, 25, 30, -10, 20, 35, -25, 10]
D23 = [-10, -15, 5, 20, -15, -20, 30, -5, -15, 25, 15, -10, -25, -5, 20, -5, 5, 15, 5, -10,
       5, 30, -10, 5, -5, -10, 35, 10, -5, 20, 0, -5, 5, 20, 30, -10, 0, 15, -30, -55,
       -20, 20, 5, 15, 60, 80, 80, 72, 68, 60, 50, 40, 10, 5, 30, 5, -5, 25, 10, -10,
       20, -10, -15, -10, 10, 40, 15, 5, -15, -15, 25, 5, -5, 10, -15, -50, -30, 30, 15, 5,
       -10, -15, 25, 5, -5, 25, -5, -5, 35, 20, -15, -20, -10, 30, 5, 5, 30, -5, -10]
S24 = [20, -30, 25, -10, 15, -40, 30, 5, -20, 10, -46, 20, 15, -25, 10, 25, -15, 5, 20, 10,
       15, -10, 5, 20, 0, -15, 10, 25, -5, 15, -20, 10, 5, -35, 15, -45, 20, 0, -25, 10,
       25, -15, 5, 15, 25, 40, 80, 100, 109, 95, 60, 35, 25, 20, 10, 30, 5, -20, 15, -10,
       10, 25, -40, 5, 20, -15, 10, 30, -20, 5, 15, -30, 10, 45, -10, 20, 5, -35, 30, 15,
       -20, 10, 25, -5, 15, -25, 20, 10, -30, 15, 5, 20, -10, 25, 0, -20, 15, 10, 30, -15, 5]
D24 = [0, 5, 10, 5, -15, -5, 15, -10, -5, -20, -10, 0, -10, -5, 15, 5, -5, 15, 10, 0,
       5, -5, 10, 10, -10, 0, 15, 10, 5, -5, -5, 20, -15, -10, -20, -10, 10, -15, -5, 15,
       10, -5, 10, 20, 30, 60, 95, 108, 105, 80, 45, 30, 20, 15, 20, 15, -10, -5, 5, 0,
       15, -15, -20, 10, 0, -5, 20, 5, -5, 10, -10, -5, 25, 20, 5, 10, -15, -5, 25, -5,
       -5, 15, 10, 5, -5, 0, 15, -10, -5, 10, 15, 5, 10, 10, -10, -5, 15, 20, 5, -5]
S25 = [10, -30, 20, -10, 35, -40, 15, 25, -20, 5, 30, -25, 10, -35, 20, 40, -15, 25, -30, 10,
       -20, 50, 0, -45, 15, 30, -25, 20, -10, 25, 5, -35, 15, 30, -20, 10, 35, -15, 20, 80,
       192, 140, 150, 120, 90, 85, 80, 100, 95, 130, 165, 60, 10, -30, 25, -47, 10, 30, -20, 15,
       20, -35, 5, 25, -10, 20, -25, 30, 10, -15, 20, 5, -30, 65, 15, 30, -10, 20, -40, 35,
       10, -20, 25, -5, 30, -45, 15, 25, 40, -10, 20, -30, 30, 10, 35, -15, 25, 5, -20]
D25 = [-5, -10, 5, 15, -5, -10, 25, 5, -10, 20, 5, -15, -10, 0, 35, 15, 5, 0, -5, -15,
       20, 25, -20, -15, 25, 0, 5, 5, 10, 15, -15, -10, 25, 5, -10, 30, 10, 5, 45, 150,
       170, 135, 140, 100, 90, 78, 95, 90, 110, 150, 120, 30, -15, 0, -15, -20, 25, 5, -5, 20,
       -10, -15, 20, 10, 5, -10, 5, 20, -5, 10, 15, -15, 25, 40, 25, 10, 5, -15, -5, 25,
       -5, 5, 15, 10, -10, -20, 25, 35, 10, 5, -10, 0, 20, 25, 5, 10, 15, -5]
S26 = [20, -25, 30, -10, 15, -40, 10, 25, -20, 35, -5, 15, -35, 25, 10, -15, 30, 0, 20, -30,
       15, 25, -10, 35, 5, -20, 30, 10, -25, 20, 35, -45, 15, 25, -10, 30, 5, -20, 20, 35,
       15, 40, 162, 110, 105, 100, 95, 85, 90, 70, 55, 40, 10, -20, 25, -10, 30, 5, -35, 20,
       15, -25, 30, 10, -51, 20, 35, -15, 25, 0, 30, -20, 15, 25, -30, 10, 35, -10, 20, 5,
       -25, 30, 15, -35, 25, 10, -15, 30, 20, -20, 15, 35, -40, 25, 10, -10, 30, 20, -30, 15]
D26 = [5, 0, 10, 5, -10, -15, 20, 0, 10, 15, 5, -10, -5, 15, -5, 10, 15, 10, -5, -5,
       20, 5, 15, 20, -10, 5, 20, -5, 0, 25, -5, -15, 20, 10, 10, 15, -5, 0, 25, 20,
       25, 120, 140, 108, 100, 98, 88, 85, 80, 62, 48, 25, -5, 5, 10, 15, 15, -15, -5, 20,
       -5, 5, 20, -20, -15, 25, 10, 5, 10, 15, 5, -5, 20, -5, -10, 20, 15, 5, 10, -10,
       5, 25, -10, -5, 20, -5, 5, 25, 0, -5, 25, 0, -10, 20, -5, 15, 25, -5, -5]
S27 = [20, -20, 30, 0, -30, 15, 35, -10, 20, -40, 25, 10, -25, 30, 5, -15, 20, -35, 35, 10,
       -10, 25, -20, 15, 30, -5, 10, -30, 20, 5, -20, 25, -10, 30, 0, -25, 15, 20, -15, 10,
       25, -35, 5, 20, 290, 190, 110, 95, 90, 100, 85, 95, 90, 100, 115, 140, 120, 40, 20, 10,
       -20, 15, 30, -10, 5, -25, 20, 10, -15, -30, 15, -40, 5, 25, -20, 10, -50, 15, 20, -10,
       35, 5, 25, -15, 30, 10, 20, -20, 15, 0, 25, -30, 20, 10, 35, -15, 20, 5, 15, -10]
D27 = [0, 5, 15, -15, -5, 25, 10, 5, -10, -5, 15, -5, 5, 15, -10, 0, -10, 0, 20, 0,
       5, 0, -5, 20, 10, 0, -10, -5, 10, -5, 0, 5, 15, 10, -10, -5, 20, 0, -5, 15,
       -10, -15, 10, 160, 250, 140, 100, 92, 95, 92, 88, 92, 95, 105, 130, 135, 80, 25, 15, -5,
       -5, 25, 10, -10, -10, 0, 15, 0, -25, -10, -10, -15, 15, 0, -5, -20, -15, 5, 5, 10,
       20, 15, 5, 10, 20, 15, 0, -5, 5, 10, 10, -5, 15, 15, 10, 0, 15, 10, 5]
S28 = [30, -20, 50, -78, 40, 60, -10, 45, 20, -40, 55, 10, 30, -30, 40, 65, -15, 25, 35, -50,
       20, 45, -60, 79, 10, 30, -20, 40, 55, -35, 25, 5, 50, -25, 30, 15, 79, -10, 20, 40,
       10, 35, -15, 30, 5, 45, 20, -30, 60, 10, 40, 25, -20, 35, 50, -10, 30, -40, -78, 15,
       25, -35, 40, 10, -20, 30, -50, 79, 20, -40, 15, 30, -78, 10, 45, 25, -20, 60, 40, -78,
       30, -10, 45, 20, -30, 35, 5, -45, 25, 10, -25, 40, 15, -60, 20]
D28 = [10, 20, -20, -30, 50, 25, 15, 35, -15, 10, 30, 20, 0, 5, 55, 20, 5, 30, 0, -15,
       30, -10, 10, 40, 20, 5, 15, 50, -5, -5, 15, 25, 10, 5, 25, 50, 30, 5, 30, 25,
       20, 5, 10, 15, 25, 30, -5, 15, 35, 25, 30, 5, 10, 40, 15, 10, -10, -60, -25, 20,
       -5, 0, 25, -5, 5, -10, 15, 50, -10, -15, 20, -30, -30, 25, 35, 0, 20, 50, -20, -25,
       10, 15, 30, -5, 0, 20, -20, -10, 20, -10, 5, 30, -25, -20]
S29 = [30, -20, 40, -10, 50, -40, 20, 35, -30, 10, 45, -15, 25, -50, 15, 40, -25, 80, -60, 20,
       35, -10, 45, -40, 10, 30, -20, 50, -55, 15, 35, -30, 20, 45, -15, 10, -40, 30, 50, -20,
       25, 5, -35, 40, 10, -25, 30, 15, 136, 100, 80, 95, 110, 85, 75, 105, 80, -50, 20, -30,
       40, 10, -20, 35, -89, 70, 25, -30, 45, 10, -25, 35, 20, -40, 15, 30, -15, 40, 5, -35,
       25, 45, -20, 10, 30, -45, 20, 35, -10, 25, -60, 75, 15, -30, 40, 10, -20, 30, 5]
D29 = [5, 10, 15, 20, 5, -10, 25, 0, -10, 25, 15, 5, -15, -20, 25, 5, 30, 10, -20, 25,
       15, 20, 0, -15, 20, 5, 15, -5, -20, 25, 0, -5, 30, 10, -5, -15, -5, 40, 15, 5,
       15, -15, 5, 25, -10, 5, 25, 80, 120, 90, 85, 100, 95, 80, 90, 95, 20, -20, -5, 5,
       25, -5, 10, -30, -10, 50, -5, 5, 25, -10, 5, 25, -10, -10, 25, 5, 15, 20, -15, -5,
       35, 10, -5, 20, -10, -10, 30, 10, 5, -20, 20, 40, -10, 5, 25, -5, 10, 15]
S30 = [20, -40, 30, 10, -25, 40, 15, -10, 30, 90, 150, 205, 170, 110, 40, -20, 20, -40, 30, 5,
       -30, 45, -15, 20, -50, -82, 10, 35, -25, 15, 40, -60, 30, -10, 50, 5, -35, 25, 70, -20,
       10, 30, -45, 15, 40, -15, 20, 35, -30, 10, -25, 45, -82, 15, 30, -40, 20, 5, 35, -20,
       25, 50, -45, 10, 30, -15, 40, -30, 15, -55, 20, 35, -10, 60, -40, 25, 10, -30, 45, 15,
       -20, 30, -50, 20, 40, -10, 25, -35, 15, 30, -25, 55, 10, -20, 35, 5, -40, 20, -10, 30]
D30 = [-10, -5, 20, -10, 10, 30, 5, 10, 55, 125, 185, 195, 145, 75, 10, 0, -15, -5, 15, -10,
       10, 15, 0, -20, -65, -30, 20, 5, -5, 30, -15, -20, 10, 25, 25, -15, -5, 45, 20, -5,
       20, -10, -15, 30, 10, 5, 25, -5, -10, -10, 15, -20, -40, 20, -10, -10, 15, 20, 5, 0,
       35, 0, -20, 20, 10, 15, 5, -5, -20, -20, 25, 10, 20, -10, -5, 20, -15, 5, 30, -5,
       5, -10, -10, 30, 15, 5, -5, -10, 25, 0, 10, 35, -5, 10, 20, -15, -10, 5, 10]
S31 = [20, -30, 45, -10, 25, -40, 15, 35, -20, 10, 40, -35, 20, 5, -45, 30, -15, 25, -50, 10,
       35, -25, 15, 30, -30, 20, 45, -10, 25, -40, 15, 35, -20, 10, 50, -15, 30, 5, -35, 20,
       40, -10, 25, -30, 15, 35, 10, 20, -15, 25, 60, 171, 110, 120, 40, -10, 30, 5, -25, 20,
       10, -30, 15, 25, -20, 35, 5, -15, 30, 10, -25, 20, 40, -10, 25, -40, 15, -20, 30, 10,
       -50, 25, -61, -30, 15, 40, -20, 30, 10, 65, -15, 25, 5, -30, 35, 20, -10, 30, 15, -25]
D31 = [-5, 10, 15, 5, -10, -10, 25, 5, -5, 25, 0, -10, 15, -20, -10, 5, 10, -15, -20, 25,
       5, -5, 25, 0, -5, 30, 15, 5, -5, -10, 25, 5, -5, 30, 15, 10, 20, -15, -10, 30,
       15, 5, -5, -10, 25, 20, 15, 5, 5, 40, 130, 150, 105, 85, 10, 10, 20, -10, -5, 15,
       -5, -5, 20, -10, 0, 20, 15, -5, -5, 30, 5, 0, -20, -5, 10, 10, 20, -15, 0, -20,
       -10, -20, -45, -5, 30, 10, 5, 20, 40, 20, 10, 15, -15, 5, 25, 5, 20, 0, -5]
S32 = [-30, 40, 70, -20, 50, 80, -10, 60, 20, -40, 50, 10, 40, -50, 30, 60, -20, -75, 40, 10,
       55, -30, 30, 45, -60, 20, 50, -10, 35, 60, -40, 25, 10, 45, -25, 30, 55, 0, 40, 20,
       -90, 35, 70, 89, 50, 60, 85, 40, 70, 50, 75, 30, -20, 40, 10, -30, 50, 20, -10, 45,
       -25, 30, 10, 50, -35, 25, 40, 0, -20, 30, 15, -147, 20, 45, -10, 60, 30, 50, 10, 70,
       25, -15, 40, 55, 20, -5, 35, 60, 10, 45, -20, 30, 50, 15, 40, -10]
D32 = [10, 55, 25, 15, 65, 30, 25, 40, -15, 5, 30, 25, -5, -10, 45, 20, -50, -20, 25, 30,
       15, 10, 40, -10, -20, 35, 20, 15, 50, 10, -10, 20, 30, 10, 5, 45, 20, 20, 30, -30,
       -40, 50, 80, 70, 55, 75, 60, 55, 60, 65, 50, 0, 10, 25, -10, 10, 35, 5, 20, 10,
       0, 20, 30, 5, -5, 35, 20, -10, 5, 25, -60, -60, 35, 15, 25, 45, 40, 30, 40, 45,
       5, 10, 50, 35, 10, 15, 50, 35, 25, 10, 5, 40, 30, 25, 15]

EVEN = [S01, S02, S03, S04, S05, S06, S07, S08, S09, S10, S11, S12, S13, S14, S15, S16,
        S17, S18, S19, S20, S21, S22, S23, S24, S25, S26, S27, S28, S29, S30, S31, S32]
ODD = [D01, D02, D03, D04, D05, D06, D07, D08, D09, D10, D11, D12, D13, D14, D15, D16,
       D17, D18, D19, D20, D21, D22, D23, D24, D25, D26, D27, D28, D29, D30, D31, D32]

MAJ, MINL = 6, 3  # tick lengths (px)
CW = {".": 0.278, "−": 0.584, "×": 0.584, "⁻": 0.5, "³": 0.333}


def channels(s, d):
    out = []
    for i, v in enumerate(s):
        out.append(v)
        if i < len(s) - 1 and i < len(d):
            out.append(d[i])
    return out


def xlab(v):
    if v >= 10000:
        m = v / 10000
        return "10⁴" if m == 1 else f"{m:g}×10⁴"
    return str(int(v))


def ylab(v):
    if abs(v) < 1e-12:
        return "0"
    sign = "−" if v < 0 else ""
    a = abs(v)
    if a < 0.0099:
        return sign + f"{round(a * 1000):g}×10⁻³"
    return sign + f"{a:g}"


def text_w(t):
    return sum(CW.get(c, 0.556) for c in t) * FS


def expr(vals, fn):
    parts = [f"datum.value == {v!r} ? '{fn(v)}'" for v in vals]
    return " : ".join(parts) + " : ''"


def steps(lo, hi, step):
    k0 = math.ceil(lo / step - 1e-9)
    k1 = math.floor(hi / step + 1e-9)
    return [round(k * step, 6) for k in range(k0, k1 + 1)]


def panel(i):
    xmin, xmax = XRANGE[i]
    ymin, ymax = YRANGE[i]
    ys = YSTEP[i]
    vals = np.array(channels(EVEN[i], ODD[i]), dtype=float) * UNIT
    df = pd.DataFrame({"v": np.linspace(xmin, xmax, len(vals)), "f": vals})
    xsc = alt.Scale(domain=[xmin, xmax], nice=False, zero=False)
    ysc = alt.Scale(domain=[ymin, ymax], nice=False, zero=False)

    xmaj = [float(v) for v in steps(xmin, xmax, 500)]
    xmin_t = [float(v) for v in steps(xmin, xmax, 100) if round(v) % 500 != 0]
    ymaj = steps(ymin, ymax, ys)
    ysub = ys / 4 if abs(ys - 0.02) < 1e-9 else ys / 5
    ymin_t = [v for v in steps(ymin, ymax, ysub)
              if all(abs(v - m) > 1e-9 for m in ymaj)]

    # how far rotated y labels poke above the frame (the title sits above them)
    poke = 0.0
    for v in ymaj:
        pos = (ymax - v) / (ymax - ymin) * H
        poke = max(poke, text_w(ylab(v)) / 2 - pos)

    xaxis = alt.Axis(values=xmaj, labelExpr=expr(xmaj, xlab), ticks=False, tickSize=0,
                     domain=False, grid=False, title=None, labelPadding=4,
                     labelFontSize=FS, labelFont=FONT, labelColor="black",
                     labelFlush=False, labelOverlap=False, labelAngle=0)
    yaxis = alt.Axis(values=ymaj, labelExpr=expr(ymaj, ylab), ticks=False, tickSize=0,
                     domain=False, grid=False, title=None, labelPadding=4,
                     labelFontSize=FS, labelFont=FONT, labelColor="black",
                     labelFlush=False, labelOverlap=False, labelAngle=270,
                     labelAlign="center", labelBaseline="alphabetic")

    line = alt.Chart(df).mark_line(clip=True, color="black", strokeWidth=1).encode(
        x=alt.X("v:Q", scale=xsc, axis=xaxis),
        y=alt.Y("f:Q", scale=ysc, axis=yaxis))
    zero = alt.Chart(pd.DataFrame({"z": [0.0]})).mark_rule(color="black", strokeWidth=1).encode(
        y=alt.Y("z:Q", scale=ysc, axis=yaxis))

    layers = [line, zero]

    def xt(tv, L):
        d = pd.DataFrame({"t": tv})
        base = alt.Chart(d).mark_rule(color="black", strokeWidth=1)
        xe = alt.X("t:Q", scale=xsc, axis=xaxis)
        return [base.encode(x=xe, y=alt.value(H), y2=alt.value(H - L)),
                base.encode(x=xe, y=alt.value(0), y2=alt.value(L))]

    def yt(tv, L):
        d = pd.DataFrame({"t": tv})
        base = alt.Chart(d).mark_rule(color="black", strokeWidth=1)
        ye = alt.Y("t:Q", scale=ysc, axis=yaxis)
        return [base.encode(y=ye, x=alt.value(0), x2=alt.value(L)),
                base.encode(y=ye, x=alt.value(W), x2=alt.value(W - L))]

    layers += xt(xmaj, MAJ) + xt(xmin_t, MINL) + yt(ymaj, MAJ) + yt(ymin_t, MINL)

    tp = dict(fontSize=FS, font=FONT, fontWeight="normal", offset=8, anchor="middle",
              color="black", frame="group")
    if poke > 0:
        tp["dy"] = round(poke, 1)
    return alt.layer(*layers).properties(
        width=W, height=H, title=alt.TitleParams(NAMES[i], **tp))


chart = alt.concat(*[panel(i) for i in range(32)], columns=4, spacing=84, bounds="flush")
chart = chart.properties(padding={"left": 0, "top": 0, "right": 0, "bottom": 0})
chart = chart.configure_view(stroke="black", strokeWidth=1).configure(background="white")

chart.save("out.html", embed_options={"renderer": "svg", "actions": False})
